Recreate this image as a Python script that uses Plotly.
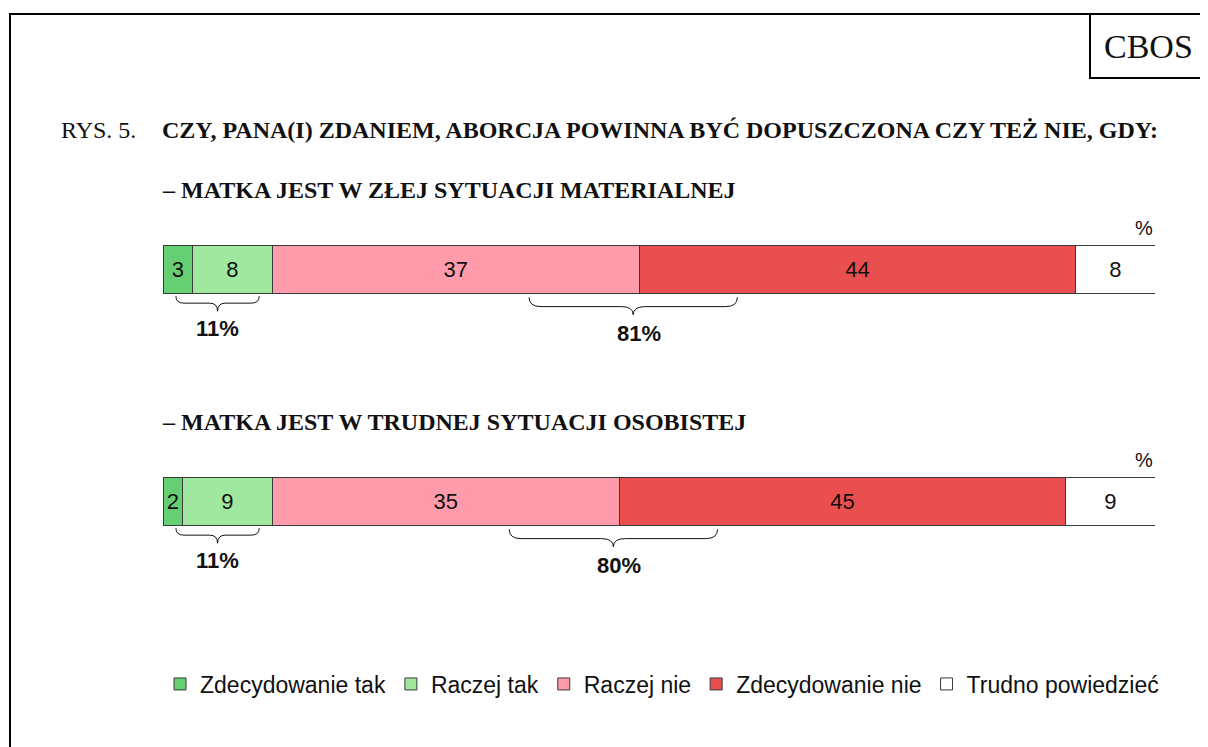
import plotly.graph_objects as go

# ---- data ----
rows = ["– MATKA JEST W ZŁEJ SYTUACJI MATERIALNEJ",
        "– MATKA JEST W TRUDNEJ SYTUACJI OSOBISTEJ"]
categories = ["Zdecydowanie tak", "Raczej tak", "Raczej nie", "Zdecydowanie nie", "Trudno powiedzieć"]
zdecydowanie_tak = [3, 2]
raczej_tak = [8, 9]
raczej_nie = [37, 35]
zdecydowanie_nie = [44, 45]
trudno = [8, 9]
series = [zdecydowanie_tak, raczej_tak, raczej_nie, zdecydowanie_nie, trudno]
colors = ["#66CF73", "#A0E8A0", "#FF9BAA", "#E84F4E", "#FFFFFF"]

title_prefix = "RYS. 5."
title_text = "CZY, PANA(I) ZDANIEM, ABORCJA POWINNA BYĆ DOPUSZCZONA CZY TEŻ NIE, GDY:"

OFF = 8                      # default page body margin
W, H = 1208 - OFF, 747 - OFF
SANS = "Liberation Sans, Arial, sans-serif"
SERIF = "Liberation Serif, Times New Roman, serif"

def py(p):  # page pixel y -> paper y
    return 1 - (p - OFF) / H

def px(p):  # page pixel x -> paper x
    return (p - OFF) / W

ROW_PX = 232                 # pixels between rows
ROW0 = 269.5 - OFF           # first row centre in plot pixels

ypos = [0, 1]

fig = go.Figure()
for name, vals, col in zip(categories, series, colors):
    fig.add_trace(go.Bar(
        y=ypos, x=vals, name=name, orientation="h",
        marker=dict(color=col, line=dict(color="#3a3a3a", width=1)),
        text=[str(v) for v in vals], textposition="inside",
        insidetextanchor="middle", constraintext="none", textangle=0,
        textfont=dict(family=SANS, size=22, color="#111111"),
        width=0.207, hoverinfo="x+name",
    ))

shapes = []
annotations = []

def brace_path(x0, x1, xc, yt, ym, ytip, r):
    return (f"M {x0},{yt} Q {x0},{ym} {x0 + r},{ym} L {xc - r},{ym} "
            f"Q {xc},{ym} {xc},{ytip} Q {xc},{ym} {xc + r},{ym} "
            f"L {x1 - r},{ym} Q {x1},{ym} {x1},{yt}")

for i, y in enumerate(ypos):
    yes = zdecydowanie_tak[i] + raczej_tak[i]
    no = raczej_nie[i] + zdecydowanie_nie[i]
    # yes brace
    cy = yes / 2
    shapes.append(dict(type="path", xref="x", yref="y",
                       path=brace_path(cy - 4.2, cy + 4.2, cy, y + 0.115, y + 0.145, y + 0.18, 0.8),
                       line=dict(color="#111111", width=1)))
    annotations.append(dict(x=cy, y=y + 0.255, xref="x", yref="y", text=f"<b>{yes}%</b>",
                            showarrow=False, font=dict(family=SANS, size=22, color="#111111"),
                            xanchor="center", yanchor="middle"))
    # no brace
    cn = yes + raczej_nie[i]
    shapes.append(dict(type="path", xref="x", yref="y",
                       path=brace_path(cn - 11.1, cn + 9.9, cn - 0.6, y + 0.12, y + 0.16, y + 0.195, 1.2),
                       line=dict(color="#111111", width=1)))
    annotations.append(dict(x=cn, y=y + 0.275, xref="x", yref="y", text=f"<b>{no}%</b>",
                            showarrow=False, font=dict(family=SANS, size=22, color="#111111"),
                            xanchor="center", yanchor="middle"))
    # percent sign
    annotations.append(dict(x=100, y=y - 0.18, xref="x", yref="y", text="%",
                            showarrow=False, font=dict(family=SANS, size=20, color="#111111"),
                            xanchor="right", yanchor="middle"))
    # subtitle
    annotations.append(dict(x=px(160), y=py(269.5 + ROW_PX * y - 79.5), xref="paper", yref="paper",
                            text=f"<b>{rows[i]}</b>",
                            showarrow=False, font=dict(family=SERIF, size=24, color="#111111"),
                            xanchor="left", yanchor="middle"))

# title
annotations.append(dict(x=px(59), y=py(130), xref="paper", yref="paper", text=title_prefix,
                        showarrow=False, font=dict(family=SERIF, size=24, color="#111111"),
                        xanchor="left", yanchor="middle"))
annotations.append(dict(x=px(160), y=py(130), xref="paper", yref="paper", text=f"<b>{title_text}</b>",
                        showarrow=False, font=dict(family=SERIF, size=24, color="#111111"),
                        xanchor="left", yanchor="middle"))
annotations.append(dict(x=px(1148), y=py(46), xref="paper", yref="paper", text="CBOS",
                        showarrow=False, font=dict(family=SERIF, size=34, color="#111111"),
                        xanchor="center", yanchor="middle"))

# frame
shapes.append(dict(type="path", xref="paper", yref="paper",
                   path=f"M {px(10)},{py(760)} L {px(10)},{py(14)} L {px(1220)},{py(14)}",
                   line=dict(color="black", width=2)))
shapes.append(dict(type="path", xref="paper", yref="paper",
                   path=f"M {px(1090)},{py(14)} L {px(1090)},{py(78)} L {px(1220)},{py(78)}",
                   line=dict(color="black", width=2)))

fig.update_layout(
    width=W, height=H, barmode="stack",
    margin=dict(l=0, r=0, t=0, b=0),
    paper_bgcolor="white", plot_bgcolor="white",
    xaxis=dict(domain=[px(163), px(1155)], range=[0, 100], visible=False, fixedrange=True),
    yaxis=dict(domain=[0, 1], range=[(H - ROW0) / ROW_PX, -ROW0 / ROW_PX], visible=False, fixedrange=True),
    showlegend=True,
    legend=dict(orientation="h", x=px(160), y=py(684), xanchor="left", yanchor="middle",
                font=dict(family=SANS, size=23, color="#111111"), traceorder="normal",
                itemclick=False, itemdoubleclick=False),
    shapes=shapes, annotations=annotations,
)

fig.write_html("out.html")
